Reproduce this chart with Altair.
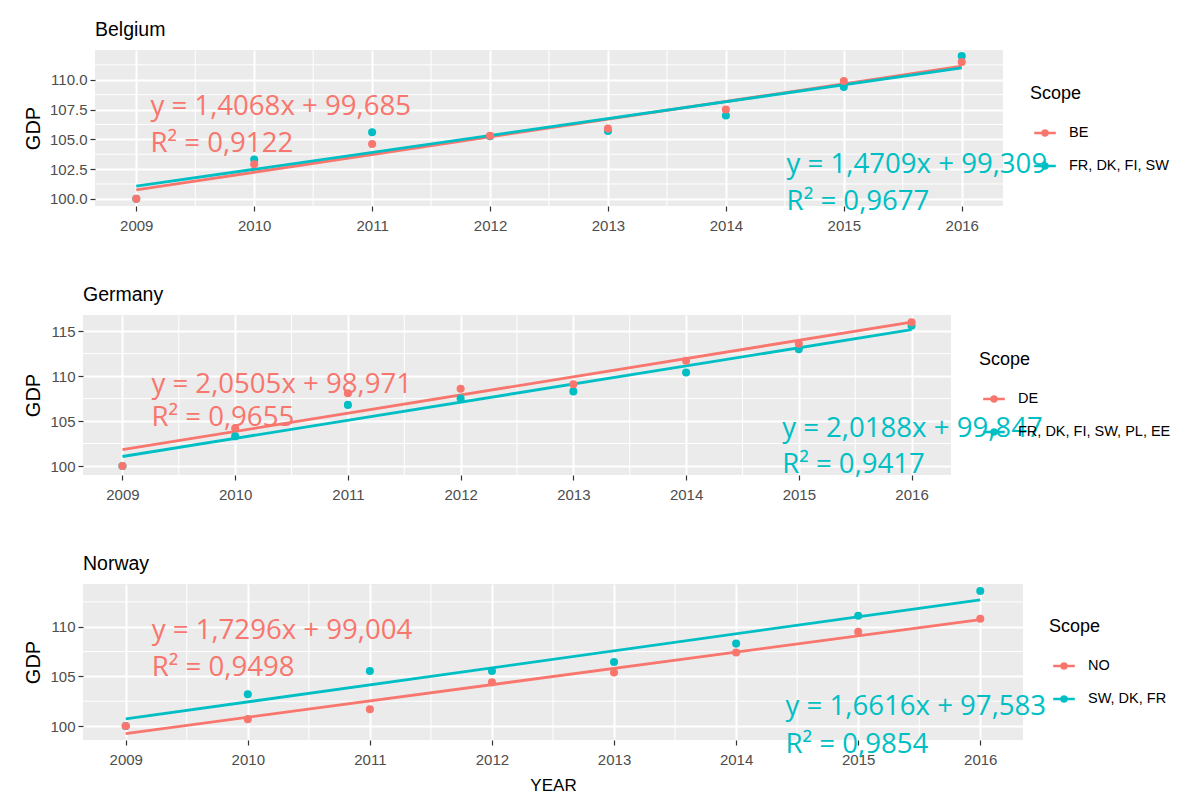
import altair as alt
import pandas as pd

YEARS = [2009, 2010, 2011, 2012, 2013, 2014, 2015, 2016]
X_MINOR = [2009.5, 2010.5, 2011.5, 2012.5, 2013.5, 2014.5, 2015.5]

# Belgium
BE_LABELS = ["BE", "FR, DK, FI, SW"]
BE_RED = [100.0, 102.9, 104.6, 105.3, 105.9, 107.5, 109.9, 111.5]
BE_TEAL = [100.0, 103.3, 105.6, 105.25, 105.7, 107.0, 109.4, 112.0]
BE_EQ = ["y = 1,4068x + 99,685", "R² = 0,9122", "y = 1,4709x + 99,309", "R² = 0,9677"]
BE_EQ_X = [2009.12, 2009.12, 2014.515, 2014.515]
BE_EQ_Y = [107.06, 103.97, 102.16, 99.08]
BE_YTICKS = [100.0, 102.5, 105.0, 107.5, 110.0]
BE_YMINOR = [101.25, 103.75, 106.25, 108.75, 111.25]

# Germany
DE_LABELS = ["DE", "FR, DK, FI, SW, PL, EE"]
DE_RED = [100.0, 104.2, 108.1, 108.6, 109.1, 111.7, 113.6, 116.0]
DE_TEAL = [100.0, 103.3, 106.8, 107.5, 108.3, 110.4, 113.0, 115.6]
DE_EQ = ["y = 2,0505x + 98,971", "R² = 0,9655", "y = 2,0188x + 99,847", "R² = 0,9417"]
DE_EQ_X = [2009.257, 2009.257, 2014.852, 2014.852]
DE_EQ_Y = [108.14, 104.48, 103.28, 99.25]
DE_YTICKS = [100, 105, 110, 115]
DE_YMINOR = [102.5, 107.5, 112.5]

# Norway
NO_LABELS = ["NO", "SW, DK, FR"]
NO_RED = [100.0, 100.7, 101.7, 104.4, 105.4, 107.4, 109.5, 110.8]
NO_TEAL = [100.0, 103.2, 105.55, 105.55, 106.45, 108.3, 111.1, 113.6]
NO_EQ = ["y = 1,7296x + 99,004", "R² = 0,9498", "y = 1,6616x + 97,583", "R² = 0,9854"]
NO_EQ_X = [2009.213, 2009.213, 2014.405, 2014.405]
NO_EQ_Y = [108.76, 105.05, 101.11, 97.30]
NO_YTICKS = [100, 105, 110]
NO_YMINOR = [102.5, 107.5, 112.5]

RED = "#F8766D"
TEAL = "#00BFC4"
LEGEND_PATH = ("M-0.8,0H0.8"
               "M-0.19,0A0.19,0.19,0,1,1,0.19,0A0.19,0.19,0,1,1,-0.19,0"
               "M-0.07,0A0.07,0.07,0,1,1,0.07,0A0.07,0.07,0,1,1,-0.07,0")


def panel(name, labels, red, teal, eqs, eq_x, eq_y, ydom, yticks, yminor, yfmt,
          width, height, lx, ly, xtitle):
    df = pd.DataFrame({
        "YEAR": YEARS + YEARS,
        "GDP": red + teal,
        "Scope": [labels[0]] * len(YEARS) + [labels[1]] * len(YEARS),
        "z": [1] * len(YEARS) + [0] * len(YEARS),
    })
    xaxis = alt.Axis(values=YEARS, format="d", title=xtitle if xtitle else "")
    yaxis = alt.Axis(values=yticks, format=yfmt, title="GDP")
    xenc = alt.X("YEAR:Q", scale=alt.Scale(domain=[2008.65, 2016.35], nice=False, zero=False), axis=xaxis)
    yenc = alt.Y("GDP:Q", scale=alt.Scale(domain=ydom, nice=False, zero=False), axis=yaxis)
    legend = alt.Legend(
        title="Scope", orient="none", legendX=lx, legendY=ly, padding=0,
        symbolType=LEGEND_PATH, symbolSize=729, symbolStrokeWidth=2.6,
        labelFontSize=14.5, labelFont="Liberation Sans", labelColor="black",
        titleFontSize=18, titleFont="Liberation Sans", titleFontWeight="normal",
        titleColor="black", titlePadding=15, rowPadding=10, labelOffset=9,
    )
    color = alt.Color("Scope:N", scale=alt.Scale(domain=labels, range=[RED, TEAL]), legend=legend)

    xminor = alt.Chart(pd.DataFrame({"YEAR": X_MINOR})).mark_rule(
        color="white", strokeWidth=1).encode(x=xenc)
    yminor_l = alt.Chart(pd.DataFrame({"GDP": yminor})).mark_rule(
        color="white", strokeWidth=1).encode(y=yenc)

    lines = alt.Chart(df).transform_regression(
        "YEAR", "GDP", groupby=["Scope"]
    ).mark_line(strokeWidth=2.8).encode(x=xenc, y=yenc, color=color)

    points = alt.Chart(df).mark_point(filled=True, size=65, opacity=1).encode(
        x=xenc, y=yenc, color=color, order=alt.Order("z:Q"))

    tdf = pd.DataFrame({"YEAR": eq_x, "GDP": eq_y, "t": eqs, "c": [RED, RED, TEAL, TEAL]})
    texts = alt.Chart(tdf).mark_text(
        align="left", baseline="alphabetic", font="Open Sans", fontSize=27.6
    ).encode(x=xenc, y=yenc, text="t:N", color=alt.Color("c:N", scale=None))

    layered = alt.layer(xminor, yminor_l, lines, points, texts).properties(
        width=width, height=height,
        title=alt.TitleParams(name, anchor="start", frame="group", fontSize=19.5,
                              font="Liberation Sans", fontWeight="normal",
                              color="black", offset=9),
    )
    # an invisible 1px column in front, so each panel is placed by its outer left edge
    spacer = alt.Chart(pd.DataFrame({"s": [0]})).mark_point(opacity=0).encode(
        x=alt.X("s:Q", axis=None), y=alt.Y("s:Q", axis=None)
    ).properties(width=1, height=1, view=alt.ViewBackground(fill="white", strokeWidth=0))
    return alt.hconcat(spacer, layered, spacing=0).resolve_scale(
        x="independent", y="independent", color="independent")


p1 = panel("Belgium", BE_LABELS, BE_RED, BE_TEAL, BE_EQ, BE_EQ_X, BE_EQ_Y,
           [99.4, 112.5], BE_YTICKS, BE_YMINOR, ".1f", 908, 156, 935, 35, None)
p2 = panel("Germany", DE_LABELS, DE_RED, DE_TEAL, DE_EQ, DE_EQ_X, DE_EQ_Y,
           [99.0, 116.8], DE_YTICKS, DE_YMINOR, "d", 868, 160, 896, 36, None)
p3 = panel("Norway", NO_LABELS, NO_RED, NO_TEAL, NO_EQ, NO_EQ_X, NO_EQ_Y,
           [98.6, 114.3], NO_YTICKS, NO_YMINOR, "d", 940, 156, 966, 34, "YEAR")

chart = alt.vconcat(p1, p2, p3, spacing=52).resolve_scale(
    x="independent", y="independent", color="independent"
).resolve_legend(color="independent").properties(
    padding={"left": 8, "top": 12, "right": 0, "bottom": 5},
    background="white",
).configure_view(
    fill="#EBEBEB", strokeWidth=0
).configure_axis(
    labelFont="Liberation Sans", labelFontSize=15, labelColor="#4D4D4D",
    tickColor="#333333", tickSize=5, tickWidth=1.2, domain=False,
    gridColor="white", gridWidth=2,
    titleFont="Liberation Sans", titleFontWeight="normal", titleColor="black",
).configure_axisX(
    titleFontSize=17, labelPadding=7, titlePadding=10
).configure_axisY(
    titleFontSize=20, labelPadding=3, titlePadding=6
)

chart.save("out.html", embed_options={"renderer": "svg", "actions": False})
